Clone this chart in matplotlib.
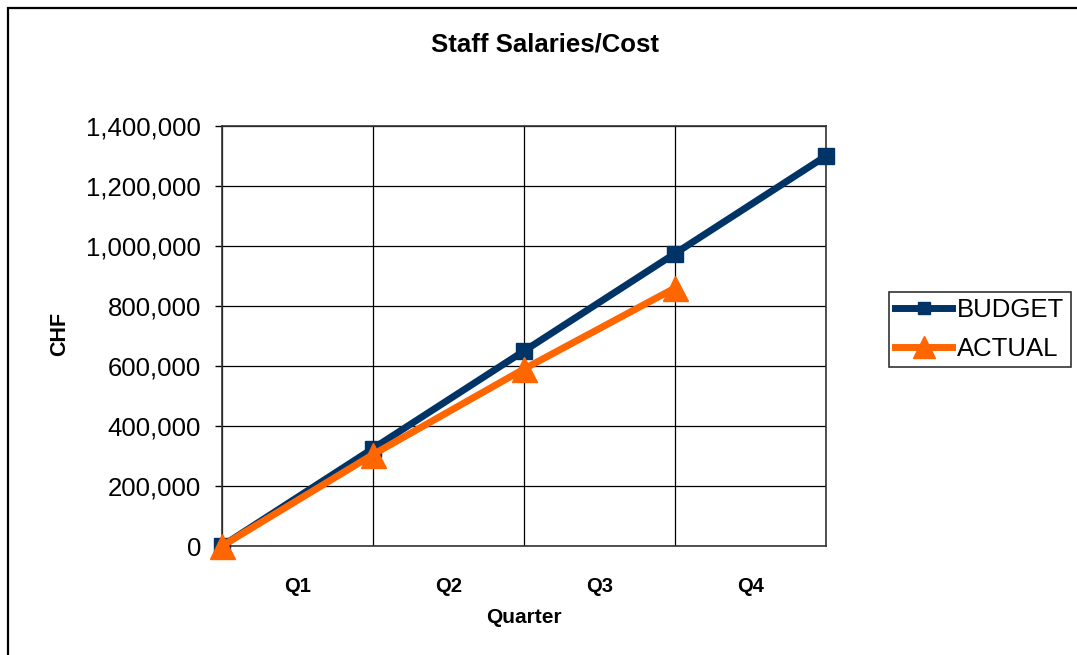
import matplotlib
matplotlib.use("Agg")
import matplotlib.pyplot as plt
from matplotlib.patches import Rectangle
from matplotlib.ticker import FuncFormatter, FixedLocator

plt.rcParams['font.family'] = ['Liberation Sans', 'DejaVu Sans']

quarters = ["Q1", "Q2", "Q3", "Q4"]
budget = [0, 325000, 650000, 975000, 1300000]
actual = [0, 305000, 590000, 860000]

NAVY = "#003366"
ORANGE = "#FF6600"

fig = plt.figure(figsize=(10.77, 6.55), dpi=100)
W, H = 1077, 655

# outer chart border (right/bottom run off the picture)
fig.patches.append(Rectangle((8 / W, -0.05), 1.2, 1 - 8 / H + 0.05,
                             transform=fig.transFigure, fill=False,
                             edgecolor="black", linewidth=1.6))

ax = fig.add_axes([222 / W, 1 - 546 / H, 604 / W, 420 / H])

ax.plot(range(len(budget)), budget, color=NAVY, lw=5, marker="s",
        markersize=11, label="BUDGET", clip_on=False, zorder=3)
ax.plot(range(len(actual)), actual, color=ORANGE, lw=5, marker="^",
        markersize=18, label="ACTUAL", clip_on=False, zorder=4)

ax.set_xlim(0, 4)
ax.set_ylim(0, 1400000)
ax.set_yticks(range(0, 1400001, 200000))
ax.yaxis.set_major_formatter(FuncFormatter(lambda v, p: f"{int(v):,}"))
ax.tick_params(axis="y", labelsize=18.5, length=5, width=1, pad=10)

ax.xaxis.set_major_locator(FixedLocator([0, 1, 2, 3, 4]))
ax.xaxis.set_minor_locator(FixedLocator([0.5, 1.5, 2.5, 3.5]))
ax.set_xticklabels([], minor=False)
ax.set_xticklabels(quarters, minor=True, fontsize=14.5, fontweight="bold")
ax.tick_params(axis="x", which="both", length=0, pad=22)

ax.grid(True, which="major", color="black", lw=0.9)
ax.set_axisbelow(True)
for s in ax.spines.values():
    s.set_color("#333333")
    s.set_linewidth(1.2)

ax.set_xlabel("Quarter", fontsize=15, fontweight="bold", labelpad=9)
fig.text(60 / W, 1 - 334 / H, "CHF", rotation=90, fontsize=15.5,
         fontweight="bold", ha="center", va="center")
fig.text(545 / W, 1 - 45 / H, "Staff Salaries/Cost", fontsize=18.5,
         fontweight="bold", ha="center", va="center")

leg = fig.legend(loc="upper left", bbox_to_anchor=(889 / W, 1 - 292 / H),
                 fontsize=18.5, frameon=True, fancybox=False,
                 handlelength=2.2, handletextpad=0.2, borderpad=0.25,
                 labelspacing=0.55, borderaxespad=0, markerscale=0.85)
leg.get_frame().set_edgecolor("black")
leg.get_frame().set_linewidth(1.2)

fig.savefig("out.png", dpi=100)
